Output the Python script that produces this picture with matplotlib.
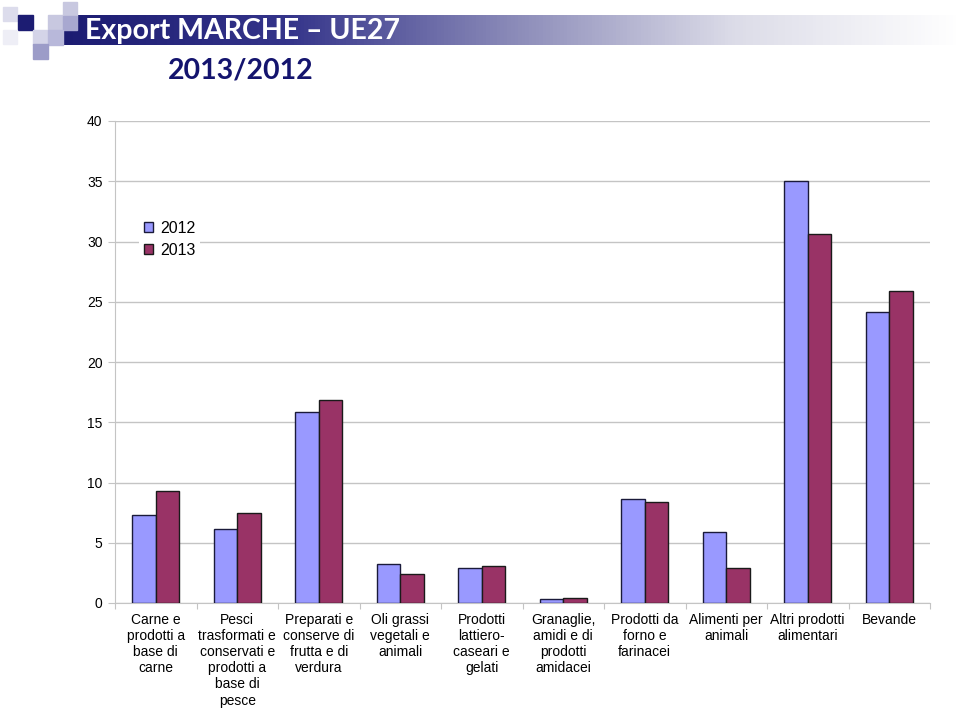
import numpy as np
import matplotlib.pyplot as plt
from matplotlib.patches import Rectangle
from matplotlib.colors import LinearSegmentedColormap

categories = ["Carne e\nprodotti a\nbase di\ncarne",
              "Pesci\ntrasformati e\nconservati e\nprodotti a\nbase di\npesce",
              "Preparati e\nconserve di\nfrutta e di\nverdura",
              "Oli grassi\nvegetali e\nanimali",
              "Prodotti\nlattiero-\ncaseari e\ngelati",
              "Granaglie,\namidi e di\nprodotti\namidacei",
              "Prodotti da\nforno e\nfarinacei",
              "Alimenti per\nanimali",
              "Altri prodotti\nalimentari",
              "Bevande"]
val_2012 = [7.3, 6.15, 15.85, 3.25, 2.9, 0.33, 8.65, 5.9, 35.0, 24.15]
val_2013 = [9.3, 7.5, 16.85, 2.4, 3.05, 0.42, 8.4, 2.9, 30.6, 25.9]
yticks = [0, 5, 10, 15, 20, 25, 30, 35, 40]

fig = plt.figure(figsize=(9.6, 7.08), dpi=100)

# banner with gradient
grad = np.linspace(0, 1, 256).reshape(1, -1)
bax = fig.add_axes([62/960, 1-45/708, 1-62/960, 30/708])
cmap = LinearSegmentedColormap.from_list("ban", ["#1c1c72", "#34348a", "#8a8ab8", "#dcdce8", "#ffffff"])
bax.imshow(grad, aspect="auto", cmap=cmap, extent=[0, 1, 0, 1])
bax.axis("off")

# decorative squares (pixel coords: x, y_top, size, color)
squares = [(3, 7, 14, "#dcdcec"), (18, 15, 15, "#1c1c72"), (48, 15, 15, "#c8c8e0"),
           (63, 2, 14, "#c8c8e0"), (63, 16, 14, "#a8a8d0"), (33, 30, 15, "#d4d4e8"),
           (48, 30, 15, "#b8b8da"), (33, 44, 15, "#9c9cc8"), (3, 30, 14, "#eeeef6")]
for sx, sy, ss, sc in squares:
    fig.patches.append(Rectangle((sx/960, 1-(sy+ss)/708), ss/960, ss/708,
                                 transform=fig.transFigure, color=sc, zorder=3))

fig.text(85/960, 1-31/708, "Export MARCHE \u2013 UE27", color="white", fontsize=20.5,
         fontweight="bold", family="Lato", va="center", ha="left", zorder=5)
fig.text(241/960, 1-70/708, "2013/2012", color="#14146e", fontsize=20.5,
         fontweight="bold", family="Lato", va="center", ha="center")

ax = fig.add_axes([115/960, 1-603/708, 815/960, 482/708])
x = np.arange(len(categories))
w = 0.29
ax.bar(x - w/2, val_2012, w, color="#9999ff", edgecolor="#1a1a3a", linewidth=1, label="2012", zorder=3)
ax.bar(x + w/2, val_2013, w, color="#993366", edgecolor="#1a1a1a", linewidth=1, label="2013", zorder=3)

ax.set_xlim(-0.5, len(categories) - 0.5)
ax.set_ylim(0, 40)
ax.set_yticks(yticks)
ax.yaxis.grid(True, color="#c4c4c4", linewidth=1)
ax.set_axisbelow(True)
for s in ["top", "right"]:
    ax.spines[s].set_visible(False)
ax.spines["left"].set_color("#c4c4c4")
ax.spines["bottom"].set_color("#c4c4c4")
ax.tick_params(axis="y", length=5, color="#c4c4c4", labelsize=10, pad=4)
for t in ax.get_yticklabels():
    t.set_family("Liberation Sans")

ax.set_xticks(np.arange(len(categories) + 1) - 0.5)
ax.set_xticklabels([])
ax.tick_params(axis="x", length=4, color="#c4c4c4")
for i, c in enumerate(categories):
    ax.text(i, -0.8, c, ha="center", va="top", fontsize=10, family="Liberation Sans",
            linespacing=1.2)

leg = ax.legend(loc="upper left", bbox_to_anchor=(0.02, 0.82), frameon=True,
                handlelength=0.55, handleheight=0.55, handletextpad=0.45,
                labelspacing=0.45, borderpad=0.3, prop={"family": "Liberation Sans", "size": 11.5})
leg.get_frame().set_edgecolor("none")
leg.get_frame().set_facecolor("white")
leg.get_frame().set_alpha(1)

fig.savefig("out.png", dpi=100)
